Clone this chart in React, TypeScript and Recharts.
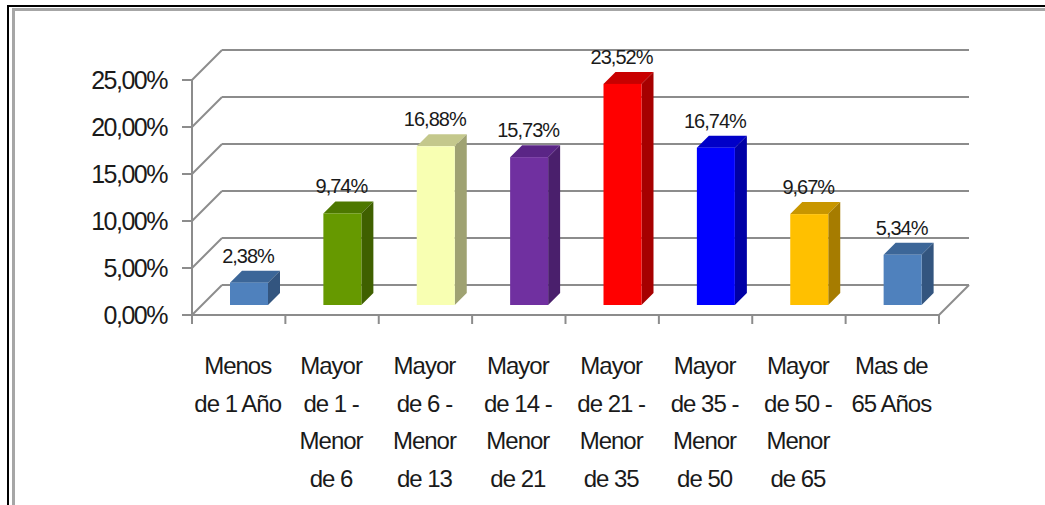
import React from 'react';
import { BarChart, Bar, XAxis, YAxis, CartesianGrid, LabelList } from 'recharts';

const categories = [
  'Menos de 1 Año',
  'Mayor de 1 - Menor de 6',
  'Mayor de 6 - Menor de 13',
  'Mayor de 14 - Menor de 21',
  'Mayor de 21 - Menor de 35',
  'Mayor de 35 - Menor de 50',
  'Mayor de 50 - Menor de 65',
  'Mas de 65 Años',
];

const values = [2.38, 9.74, 16.88, 15.73, 23.52, 16.74, 9.67, 5.34];

const categoryLines = [
  ['Menos', 'de 1 Año'],
  ['Mayor', 'de 1 -', 'Menor', 'de 6'],
  ['Mayor', 'de 6 -', 'Menor', 'de 13'],
  ['Mayor', 'de 14 -', 'Menor', 'de 21'],
  ['Mayor', 'de 21 -', 'Menor', 'de 35'],
  ['Mayor', 'de 35 -', 'Menor', 'de 50'],
  ['Mayor', 'de 50 -', 'Menor', 'de 65'],
  ['Mas de', '65 Años'],
];

const yTicks = [0, 5, 10, 15, 20, 25];

const frontColors = ['#4F81BD', '#669900', '#F8FFB2', '#7030A0', '#FF0000', '#0000FF', '#FFC000', '#4F81BD'];
const sideColors = ['#33557F', '#3F6000', '#9FA272', '#4A1F6C', '#A60000', '#0000A6', '#A67C00', '#33557F'];
const topColors = ['#3C6698', '#4D7800', '#C4C88C', '#5A2586', '#C80000', '#0000C8', '#C89600', '#3C6698'];

const data = categories.map((name, i) => ({ name, value: values[i] }));

const GRID = '#8C8C8C';
const TEXT = '#1A1A1A';
const FONT = '"Liberation Sans", Arial, sans-serif';
const WALL = 30;
const SHIFT = 10;
const DEPTH = 12;

const fmt = (v: number) => v.toFixed(2).replace('.', ',') + '%';

const GridLine = (p: any) => {
  const { x1, y1, x2, y, height } = p;
  const isFloor = Math.abs(y1 - (y + height)) < 0.5;
  return (
    <g key={p.key ?? `g-${p.index}`}>
      <line x1={x1} y1={y1} x2={x1 + WALL} y2={y1 - WALL} stroke={GRID} strokeWidth={2} />
      <line x1={x1 + WALL} y1={y1 - WALL} x2={x2 + WALL} y2={y1 - WALL} stroke={GRID} strokeWidth={2} />
      {isFloor && <line x1={x2} y1={y1} x2={x2 + WALL} y2={y1 - WALL} stroke={GRID} strokeWidth={2} />}
    </g>
  );
};

const Bar3D = (p: any) => {
  const { x, y, width, height, index } = p;
  if (height == null || width == null) return null;
  const fx = x + SHIFT;
  const fy = y - SHIFT;
  const i = index ?? 0;
  return (
    <g>
      <polygon
        points={`${fx},${fy} ${fx + DEPTH},${fy - DEPTH} ${fx + width + DEPTH},${fy - DEPTH} ${fx + width},${fy}`}
        fill={topColors[i]}
      />
      <polygon
        points={`${fx + width},${fy} ${fx + width + DEPTH},${fy - DEPTH} ${fx + width + DEPTH},${fy + height - DEPTH} ${fx + width},${fy + height}`}
        fill={sideColors[i]}
      />
      <rect x={fx} y={fy} width={width} height={height} fill={frontColors[i]} />
    </g>
  );
};

const BarLabel = (p: any) => {
  const vb = p.viewBox && p.viewBox.width != null ? p.viewBox : p;
  const { x, y, width } = vb;
  if (x == null) return null;
  return (
    <text
      x={x + SHIFT + width / 2 - 1}
      y={y - SHIFT - 20}
      textAnchor="middle"
      fontFamily={FONT}
      fontSize={20}
      letterSpacing={-1}
      fill={TEXT}
    >
      {fmt(Number(p.value))}
    </text>
  );
};

const CatTick = (p: any) => {
  const { x, y, payload, width, visibleTicksCount } = p;
  const idx = payload?.index ?? p.index ?? 0;
  const half = payload?.offset ? payload.offset : width / visibleTicksCount / 2;
  const lines = categoryLines[idx] || [];
  const last = idx === categories.length - 1;
  return (
    <g>
      <line x1={x - half} y1={y} x2={x - half} y2={y + 9} stroke={GRID} strokeWidth={2} />
      {last && <line x1={x + half} y1={y} x2={x + half} y2={y + 9} stroke={GRID} strokeWidth={2} />}
      <text textAnchor="middle" fontFamily={FONT} fontSize={24} letterSpacing={-1} fill={TEXT}>
        {lines.map((l, k) => (
          <tspan key={k} x={x - 1} y={y + 59 + k * 37.5}>
            {l}
          </tspan>
        ))}
      </text>
    </g>
  );
};

export default function App() {
  return (
    <div style={{ position: 'absolute', left: 0, top: 0, width: 1045, height: 505, background: '#fff', overflow: 'hidden' }}>
      <div style={{ position: 'absolute', left: 7, top: 5, width: 1100, height: 600, borderLeft: '2px solid #000', borderTop: '2px solid #000' }} />
      <div style={{ position: 'absolute', left: 12, top: 8, width: 1100, height: 600, borderLeft: '3px solid #A6A6A6', borderTop: '3px solid #A6A6A6' }} />
      <div style={{ position: 'absolute', left: 0, top: 0 }}>
        <BarChart width={1045} height={505} data={data} margin={{ top: 80, right: 106, bottom: 0, left: 0 }}>
          <CartesianGrid vertical={false} horizontal={GridLine} />
          <XAxis
            dataKey="name"
            interval={0}
            height={190}
            tickLine={false}
            tickSize={0}
            tickMargin={0}
            axisLine={{ stroke: GRID, strokeWidth: 2 }}
            tick={<CatTick />}
          />
          <YAxis
            width={192}
            domain={[0, 25]}
            ticks={yTicks}
            interval={0}
            tickFormatter={fmt}
            tickSize={10}
            tickMargin={15}
            axisLine={{ stroke: GRID, strokeWidth: 2 }}
            tickLine={{ stroke: GRID, strokeWidth: 2 }}
            tick={{ fontFamily: FONT, fontSize: 25, letterSpacing: -1.5, fill: TEXT }}
          />
          <Bar dataKey="value" barSize={38} isAnimationActive={false} shape={<Bar3D />}>
            <LabelList dataKey="value" content={<BarLabel />} />
          </Bar>
        </BarChart>
      </div>
    </div>
  );
}
